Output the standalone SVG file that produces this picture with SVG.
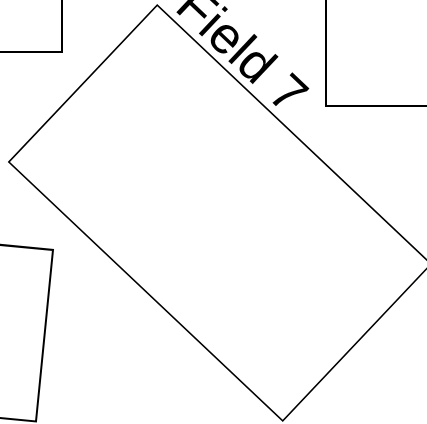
<svg xmlns="http://www.w3.org/2000/svg" width="427" height="424" viewBox="0 0 427 424">
<style>
.box{fill:none;stroke:#000;stroke-width:2}
.main{fill:none;stroke:#000;stroke-width:1.6}
.lbl{font-family:"Liberation Sans",Arial,sans-serif;font-size:52px;fill:#000}
</style>
<rect width="427" height="424" fill="#fff"/>
<g id="node-topleft"><rect class="box" x="-100" y="-60" width="162" height="112"/></g>
<g id="node-topright"><rect class="box" x="326" y="-60" width="200" height="166"/></g>
<g id="node-bottomleft"><polygon class="box" points="53,250 36,421.5 -150,403.5 -133,232"/></g>
<g id="node-field7" transform="translate(220,213) rotate(43.4)">
<rect class="main" x="-188.5" y="-108" width="377" height="216"/>
<text class="lbl" x="-174" y="-116">Field 7</text>
</g>
<g id="connectors"></g>
</svg>
